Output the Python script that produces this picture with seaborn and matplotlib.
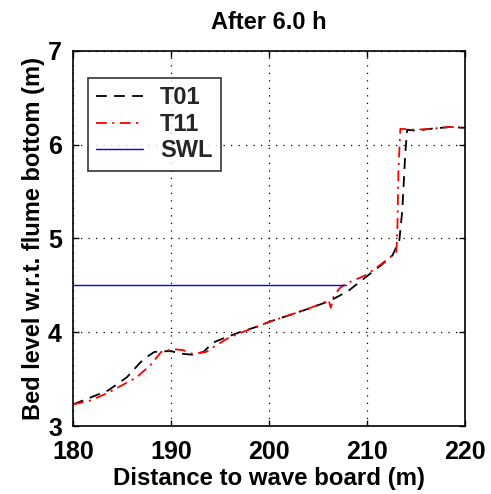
import matplotlib
matplotlib.use("Agg")
import matplotlib.pyplot as plt
import seaborn as sns
import numpy as np

sns.set_theme(style="white")
plt.rcParams['font.family'] = ['Liberation Sans', 'DejaVu Sans']
plt.rcParams['font.weight'] = 'bold'

title = "After 6.0 h"
xlabel = "Distance to wave board (m)"
ylabel = "Bed level w.r.t. flume bottom (m)"

t01_x = [180, 181.7, 183.6, 185.5, 186.8, 187.3, 188.3, 189.9, 191.2, 192.2, 193.3, 194.3,
         195.7, 197.0, 198.8, 200.0, 202, 204, 206.1, 207.2, 208.2, 209.9, 211.5, 212.6,
         213.3, 213.6, 213.9, 214.1, 215.0, 216.5, 218.5, 220]
t01_y = [3.23, 3.30, 3.38, 3.52, 3.67, 3.72, 3.79, 3.80, 3.77, 3.76, 3.79, 3.89,
         3.95, 4.00, 4.06, 4.11, 4.18, 4.25, 4.33, 4.39, 4.45, 4.59, 4.72, 4.82,
         4.98, 5.3, 5.9, 6.16, 6.15, 6.17, 6.19, 6.18]

t11_x = [180, 181.7, 183.5, 185.1, 186.5, 187.9, 189.0, 190.2, 191.2, 192.2, 193.6, 194.3,
         195.7, 197, 198.8, 200, 202, 204, 206.1, 206.3, 206.6, 207.2, 207.9, 209.9,
         211.5, 212.6, 213.0, 213.1, 213.2, 213.4, 215, 216.5, 218.5, 220]
t11_y = [3.23, 3.27, 3.35, 3.44, 3.52, 3.65, 3.79, 3.82, 3.81, 3.77, 3.79, 3.84,
         3.93, 3.99, 4.06, 4.11, 4.18, 4.25, 4.34, 4.26, 4.38, 4.47, 4.52, 4.61,
         4.73, 4.82, 4.86, 5.1, 5.7, 6.17, 6.16, 6.17, 6.19, 6.18]

swl_x = [180, 207.9]
swl_y = [4.5, 4.5]

xticks = [180, 190, 200, 210, 220]
yticks = [3, 4, 5, 6, 7]

fig = plt.figure(figsize=(4.91, 4.94), dpi=100)
ax = fig.add_axes([73/491, 1-426/494, (465-73)/491, (426-51)/494])

sns.lineplot(x=t01_x, y=t01_y, ax=ax, color='black', lw=1.3, estimator=None,
             sort=False, label='T01')
ax.lines[-1].set_dashes([6, 4])
sns.lineplot(x=t11_x, y=t11_y, ax=ax, color='red', lw=1.3, estimator=None,
             sort=False, label='T11')
ax.lines[-1].set_dashes([6, 3, 1.2, 3])
sns.lineplot(x=swl_x, y=swl_y, ax=ax, color='blue', lw=1.0, estimator=None,
             sort=False, label='SWL')

ax.set_xlim(180, 220)
ax.set_ylim(3, 7)
ax.set_xticks(xticks)
ax.set_yticks(yticks)
ax.tick_params(direction='in', length=4, width=1, labelsize=18, colors='black',
               top=True, right=True, bottom=True, left=True)
ax.tick_params(axis='x', pad=10)
ax.tick_params(axis='y', pad=8)
for lab in ax.get_xticklabels() + ax.get_yticklabels():
    lab.set_fontweight('bold')
ax.grid(True, color='black', linestyle=(0, (1, 5)), lw=0.9)
for s in ax.spines.values():
    s.set_color('black')
    s.set_linewidth(1.2)
ax.set_xlabel(xlabel, fontsize=17.3, color='black', labelpad=2, fontweight='bold')
ax.set_ylabel(ylabel, fontsize=17, color='black', labelpad=2, fontweight='bold')
ax.set_title(title, fontsize=17, color='black', pad=16, fontweight='bold')

leg = ax.legend(loc='upper left', bbox_to_anchor=(0.038, 0.928), fontsize=17,
                frameon=True, fancybox=False, handlelength=2.0, borderpad=0.35,
                labelspacing=0.15, handletextpad=0.7, borderaxespad=0,
                prop={'weight': 'bold', 'size': 17})
leg.get_frame().set_edgecolor('black')
leg.get_frame().set_linewidth(1.2)

fig.savefig('out.png', dpi=100)
